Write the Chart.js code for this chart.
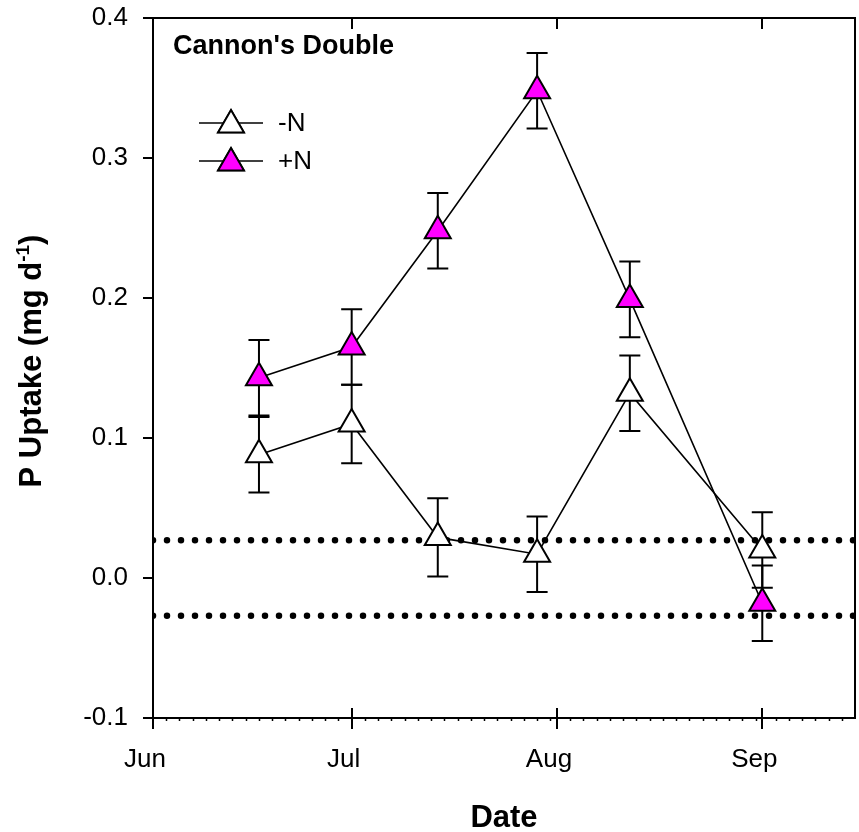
<!DOCTYPE html>
<html>
<head>
<meta charset="utf-8">
<title>P Uptake - Cannon's Double</title>
<script src="https://cdn.jsdelivr.net/npm/chart.js@4.4.1/dist/chart.umd.min.js"></script>
<style>
  html, body { margin: 0; padding: 0; background: #fff; }
  #wrap { width: 859px; height: 832px; position: relative; }
</style>
</head>
<body>
<div id="wrap"><canvas id="chart" width="859" height="832"></canvas></div>
<script>
// sampling dates (MM-DD) and measured P uptake, mg per day
const sampleDates = ['06-17', '07-01', '07-14', '07-29', '08-12', '09-01'];
const uptakeMinusN = [0.088, 0.110, 0.029, 0.017, 0.132, 0.020];
const errMinusN = [0.027, 0.028, 0.028, 0.027, 0.027, 0.027];
const uptakePlusN = [0.143, 0.165, 0.248, 0.348, 0.199, -0.018];
const errPlusN = [0.027, 0.027, 0.027, 0.027, 0.027, 0.027];
const detectionLimits = [0.027, -0.027];

const monthLabels = ['Jun', 'Jul', 'Aug', 'Sep'];
const monthStarts = ['06-01', '07-01', '08-01', '09-01'];
const axisEnd = '09-15';
const yTicks = [-0.1, 0.0, 0.1, 0.2, 0.3, 0.4];

const FONT = '"Liberation Sans", Arial, Helvetica, sans-serif';
Chart.defaults.font.family = FONT;
Chart.defaults.color = '#000';

// day number counted from Jun 1
function dayOf(md) {
  const [m, d] = md.split('-').map(Number);
  return (Date.UTC(2000, m - 1, d) - Date.UTC(2000, 5, 1)) / 86400000;
}
const xDays = sampleDates.map(dayOf);
const monthDays = monthStarts.map(dayOf);
const xMax = dayOf(axisEnd);

const pts = (vals) => vals.map((v, i) => ({ x: xDays[i], y: v }));
const limitLine = (v) => [{ x: 0, y: v }, { x: xMax, y: v }];

const seriesStyle = (fill) => ({
  borderColor: '#000',
  borderWidth: 1.6,
  pointStyle: 'triangle',
  pointRadius: 15,
  pointHoverRadius: 15,
  pointBackgroundColor: fill,
  pointBorderColor: '#000',
  pointBorderWidth: 2,
  tension: 0,
  fill: false
});

const dotStyle = {
  borderColor: '#000',
  borderWidth: 6.5,
  borderDash: [0, 14],
  borderCapStyle: 'round',
  pointRadius: 0,
  fill: false
};

// error bars, drawn under the markers
const errorBars = {
  id: 'errorBars',
  beforeDatasetsDraw(chart) {
    const { ctx, scales: { x, y } } = chart;
    const sets = [[uptakeMinusN, errMinusN], [uptakePlusN, errPlusN]];
    ctx.save();
    ctx.strokeStyle = '#000';
    ctx.lineWidth = 2;
    sets.forEach(([vals, errs]) => {
      vals.forEach((v, i) => {
        const px = x.getPixelForValue(xDays[i]);
        const top = y.getPixelForValue(v + errs[i]);
        const bot = y.getPixelForValue(v - errs[i]);
        ctx.beginPath();
        ctx.moveTo(px, top); ctx.lineTo(px, bot);
        ctx.moveTo(px - 10.5, top); ctx.lineTo(px + 10.5, top);
        ctx.moveTo(px - 10.5, bot); ctx.lineTo(px + 10.5, bot);
        ctx.stroke();
      });
    });
    ctx.restore();
  }
};

// frame, tick marks, titles and legend
const decorations = {
  id: 'decorations',
  afterDraw(chart) {
    const { ctx, chartArea: a, scales: { x, y } } = chart;
    ctx.save();
    ctx.strokeStyle = '#000';
    ctx.lineWidth = 2;
    ctx.strokeRect(a.left, a.top, a.right - a.left, a.bottom - a.top);

    ctx.beginPath();
    yTicks.forEach(v => {
      const py = Math.round(y.getPixelForValue(v));
      ctx.moveTo(a.left - 10, py); ctx.lineTo(a.left, py);
    });
    monthDays.forEach(d => {
      const px = Math.round(x.getPixelForValue(d));
      ctx.moveTo(px, a.bottom - 10); ctx.lineTo(px, a.bottom + 11);
      ctx.moveTo(px, a.top); ctx.lineTo(px, a.top + 11);
    });
    ctx.stroke();

    // minor ticks every second day
    ctx.lineWidth = 1.5;
    ctx.beginPath();
    monthDays.forEach((start, k) => {
      const end = k + 1 < monthDays.length ? monthDays[k + 1] : xMax;
      for (let d = start + 2; d < end - 0.5; d += 2) {
        const px = Math.round(x.getPixelForValue(d)) + 0.5;
        ctx.moveTo(px, a.bottom); ctx.lineTo(px, a.bottom + 3);
      }
    });
    ctx.stroke();

    ctx.fillStyle = '#000';
    ctx.textBaseline = 'middle';
    ctx.textAlign = 'left';
    ctx.font = 'bold 27px ' + FONT;
    ctx.fillText("Cannon's Double", 173, 47);

    // legend
    const legend = [['-N', '#ffffff', 123], ['+N', '#ff00ff', 161]];
    legend.forEach(([label, fill, ly]) => {
      ctx.strokeStyle = '#000';
      ctx.lineWidth = 1.6;
      ctx.beginPath();
      ctx.moveTo(199, ly); ctx.lineTo(263, ly);
      ctx.stroke();
      Chart.helpers.drawPoint(ctx, {
        pointStyle: 'triangle', radius: 15, rotation: 0, borderWidth: 2
      }, 231, ly + 2);
      ctx.fillStyle = fill;
      ctx.lineWidth = 2;
      ctx.fill();
      ctx.stroke();
      ctx.fillStyle = '#000';
      ctx.font = '26px ' + FONT;
      ctx.fillText(label, 278, ly + 1);
    });

    // x title
    ctx.textAlign = 'center';
    ctx.font = 'bold 31px ' + FONT;
    ctx.fillText('Date', 504, 818);

    // y title with superscript
    const main = 'P Uptake (mg d', sup = '-1', close = ')';
    const bigFont = 'bold 31px ' + FONT, supFont = 'bold 19px ' + FONT;
    ctx.font = bigFont; const w1 = ctx.measureText(main).width; const w3 = ctx.measureText(close).width;
    ctx.font = supFont; const w2 = ctx.measureText(sup).width;
    const total = w1 + w2 + w3;
    ctx.translate(41, 361);
    ctx.rotate(-Math.PI / 2);
    ctx.textAlign = 'left';
    ctx.textBaseline = 'alphabetic';
    let cx = -total / 2;
    ctx.font = bigFont; ctx.fillText(main, cx, 0); cx += w1;
    ctx.font = supFont; ctx.fillText(sup, cx, -12); cx += w2;
    ctx.font = bigFont; ctx.fillText(close, cx, 0);
    ctx.restore();
  }
};

new Chart(document.getElementById('chart'), {
  type: 'line',
  data: {
    datasets: [
      { label: '-N', data: pts(uptakeMinusN), ...seriesStyle('#ffffff') },
      { label: '+N', data: pts(uptakePlusN), ...seriesStyle('#ff00ff') },
      { label: 'limit high', data: limitLine(detectionLimits[0]), ...dotStyle },
      { label: 'limit low', data: limitLine(detectionLimits[1]), ...dotStyle }
    ]
  },
  options: {
    responsive: false,
    animation: false,
    events: [],
    layout: { autoPadding: false, padding: { top: 18, right: 4, left: 0, bottom: 0 } },
    plugins: { legend: { display: false }, tooltip: { enabled: false } },
    scales: {
      x: {
        type: 'linear',
        min: 0,
        max: xMax,
        grid: { display: false, drawTicks: false },
        border: { display: false },
        afterBuildTicks: (scale) => { scale.ticks = monthDays.map(v => ({ value: v })); },
        afterFit: (scale) => { scale.height = 114; scale.paddingLeft = 0; scale.paddingRight = 0; },
        ticks: {
          autoSkip: false,
          maxRotation: 0,
          padding: 26,
          labelOffset: -8,
          font: { size: 26 },
          color: '#000',
          callback: (v) => monthLabels[monthDays.indexOf(v)]
        }
      },
      y: {
        min: -0.1,
        max: 0.4,
        grid: { display: false, drawTicks: false },
        border: { display: false },
        afterBuildTicks: (scale) => { scale.ticks = yTicks.map(v => ({ value: v })); },
        afterFit: (scale) => { scale.width = 153; scale.paddingTop = 0; scale.paddingBottom = 0; },
        ticks: {
          padding: 25,
          font: { size: 26 },
          color: '#000',
          callback: (v) => Number(v).toFixed(1)
        }
      }
    }
  },
  plugins: [errorBars, decorations]
});
</script>
</body>
</html>
